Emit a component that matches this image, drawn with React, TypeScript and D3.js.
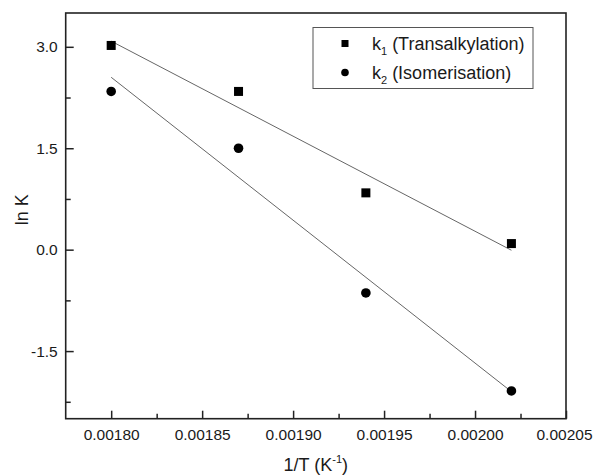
import React, { useEffect, useRef } from "react";
import * as d3 from "d3";

// DATA
const invT = [0.0018, 0.00187, 0.00194, 0.00202];
const lnK1 = [3.02, 2.34, 0.84, 0.09];
const lnK2 = [2.34, 1.5, -0.64, -2.09];

const xTicks = [0.0018, 0.00185, 0.0019, 0.00195, 0.002, 0.00205];
const xMinor = [0.001825, 0.001875, 0.001925, 0.001975, 0.002025];
const yTicks = [-1.5, 0, 1.5, 3.0];
const yTickLabels = ["-1.5", "0.0", "1.5", "3.0"];
const yMinor = [-2.25, -0.75, 0.75, 2.25];

const legendLabels = [
  { name: "k", sub: "1", rest: " (Transalkylation)", shape: "square" },
  { name: "k", sub: "2", rest: " (Isomerisation)", shape: "circle" },
];

// least squares line through the points
const fit = (xs: number[], ys: number[]) => {
  const mx = d3.mean(xs) as number;
  const my = d3.mean(ys) as number;
  const sxy = d3.sum(xs, (x, i) => (x - mx) * (ys[i] - my));
  const sxx = d3.sum(xs, (x) => (x - mx) * (x - mx));
  const b = sxy / sxx;
  return (x: number) => my + b * (x - mx);
};

export default function App() {
  const ref = useRef<SVGSVGElement>(null);

  useEffect(() => {
    const svg = d3.select(ref.current);
    svg.selectAll("*").remove();

    const left = 65.7;
    const right = 566;
    const top = 13;
    const bottom = 418.7;
    const font = "'Liberation Sans', Arial, sans-serif";

    const xScale = d3.scaleLinear().domain([0.001775, 0.00205]).range([left, right]);
    const yScale = d3.scaleLinear().domain([-2.5, 3.5]).range([bottom, top]);

    // FIT LINES
    [lnK1, lnK2].forEach((ys) => {
      const f = fit(invT, ys);
      const ends = [invT[0], invT[invT.length - 1]];
      svg
        .append("path")
        .datum(ends)
        .attr("fill", "none")
        .attr("stroke", "#666")
        .attr("stroke-width", 1)
        .attr(
          "d",
          d3
            .line<number>()
            .x((d) => xScale(d))
            .y((d) => yScale(f(d)))
        );
    });

    // POINTS
    svg
      .append("g")
      .selectAll("rect")
      .data(invT)
      .join("rect")
      .attr("x", (d) => xScale(d) - 4.5)
      .attr("y", (d, i) => yScale(lnK1[i]) - 4.5)
      .attr("width", 9)
      .attr("height", 9)
      .attr("fill", "#000");

    svg
      .append("g")
      .selectAll("circle")
      .data(invT)
      .join("circle")
      .attr("cx", (d) => xScale(d))
      .attr("cy", (d, i) => yScale(lnK2[i]))
      .attr("r", 4.8)
      .attr("fill", "#000");

    // X AXIS
    const xAxis = svg
      .append("g")
      .attr("transform", `translate(0,${bottom})`)
      .call(
        d3
          .axisBottom(xScale)
          .tickValues(xTicks)
          .tickSize(-8)
          .tickPadding(10)
          .tickFormat(d3.format(".5f") as any)
      );
    svg
      .append("g")
      .attr("transform", `translate(0,${bottom})`)
      .call(d3.axisBottom(xScale).tickValues(xMinor).tickSize(-5).tickFormat(() => ""));

    // Y AXIS
    const yAxis = svg
      .append("g")
      .attr("transform", `translate(${left},0)`)
      .call(
        d3
          .axisLeft(yScale)
          .tickValues(yTicks)
          .tickSize(-8)
          .tickPadding(8)
          .tickFormat((d, i) => yTickLabels[i])
      );
    svg
      .append("g")
      .attr("transform", `translate(${left},0)`)
      .call(d3.axisLeft(yScale).tickValues(yMinor).tickSize(-5).tickFormat(() => ""));

    svg.selectAll(".domain").remove();
    svg.selectAll(".tick line").attr("stroke", "#222").attr("stroke-width", 1.5);
    [xAxis, yAxis].forEach((a) =>
      a.selectAll("text").attr("font-family", font).attr("font-size", 15.5).attr("fill", "#1a1a1a")
    );
    // last x label sits against the page edge
    xAxis
      .selectAll<SVGTextElement, number>("text")
      .filter((d) => d === xTicks[xTicks.length - 1])
      .attr("text-anchor", "end")
      .attr("x", 592 - right);

    // FRAME
    svg
      .append("rect")
      .attr("x", left)
      .attr("y", top)
      .attr("width", right - left)
      .attr("height", bottom - top)
      .attr("fill", "none")
      .attr("stroke", "#222")
      .attr("stroke-width", 1.6);

    // AXIS TITLES
    const xt = svg
      .append("text")
      .attr("x", (left + right) / 2)
      .attr("y", 471)
      .attr("text-anchor", "middle")
      .attr("font-family", font)
      .attr("font-size", 18)
      .attr("fill", "#1a1a1a");
    xt.append("tspan").text("1/T (K");
    xt.append("tspan").attr("font-size", 11).attr("dy", -8).text("-1");
    xt.append("tspan").attr("dy", 8).text(")");

    svg
      .append("text")
      .attr("transform", `translate(28,${(top + bottom) / 2 - 6}) rotate(-90)`)
      .attr("text-anchor", "middle")
      .attr("font-family", font)
      .attr("font-size", 18)
      .attr("fill", "#1a1a1a")
      .text("ln K");

    // LEGEND
    svg
      .append("rect")
      .attr("x", 313)
      .attr("y", 27.5)
      .attr("width", 220)
      .attr("height", 61)
      .attr("fill", "#fff")
      .attr("stroke", "#555")
      .attr("stroke-width", 1);

    legendLabels.forEach((l, i) => {
      const cy = 43.5 + i * 29;
      if (l.shape === "square") {
        svg.append("rect").attr("x", 341.5).attr("y", cy - 3.5).attr("width", 7).attr("height", 7).attr("fill", "#000");
      } else {
        svg.append("circle").attr("cx", 345).attr("cy", cy).attr("r", 3.8).attr("fill", "#000");
      }
      const t = svg
        .append("text")
        .attr("x", 372)
        .attr("y", cy + 6.5)
        .attr("font-family", font)
        .attr("font-size", 18)
        .attr("fill", "#1a1a1a");
      t.append("tspan").text(l.name);
      t.append("tspan").attr("font-size", 11).attr("dy", 5).text(l.sub);
      t.append("tspan").attr("dy", -5).text(l.rest);
    });
  }, []);

  return (
    <svg
      ref={ref}
      width={593}
      height={475}
      style={{ position: "absolute", left: 0, top: 0, background: "#fff" }}
    />
  );
}
